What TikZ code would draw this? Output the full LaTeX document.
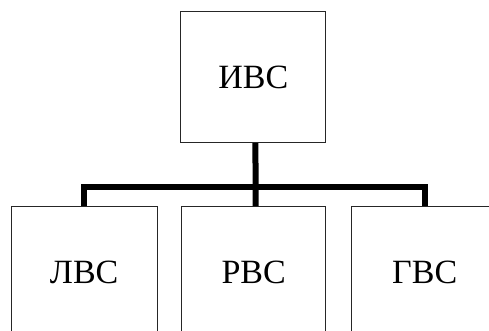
\documentclass[tikz,border=0pt]{standalone}
\usepackage{fontspec}
\setmainfont{Liberation Serif}
\begin{document}
\begin{tikzpicture}[x=1pt,y=-1pt,
  box/.style={draw=black!85, line width=1pt, minimum width=145pt, minimum height=131pt, inner sep=0pt, font=\fontsize{34}{34}\selectfont},
  bus/.style={line width=6pt}]
\useasboundingbox (0,0) rectangle (489,330);
\clip (0,0) rectangle (489,330);
\node[box] (top) at (253.4,77.2) {ИВС};
\node[box, minimum width=146pt] (lvs) at (84.2,272.2) {ЛВС};
\node[box, minimum width=144pt] (rvs) at (253.7,272.2) {РВС};
\node[box, minimum width=146pt] (gvs) at (424.7,272.2) {ГВС};
\coordinate (busy) at (0,186.7);
\draw[bus] ([xshift=2pt]top.south) -- ([xshift=2pt]rvs.north);
\draw[bus] (lvs.north) -- (lvs.north |- busy) -- (gvs.north |- busy) -- (gvs.north);
\end{tikzpicture}
\end{document}
